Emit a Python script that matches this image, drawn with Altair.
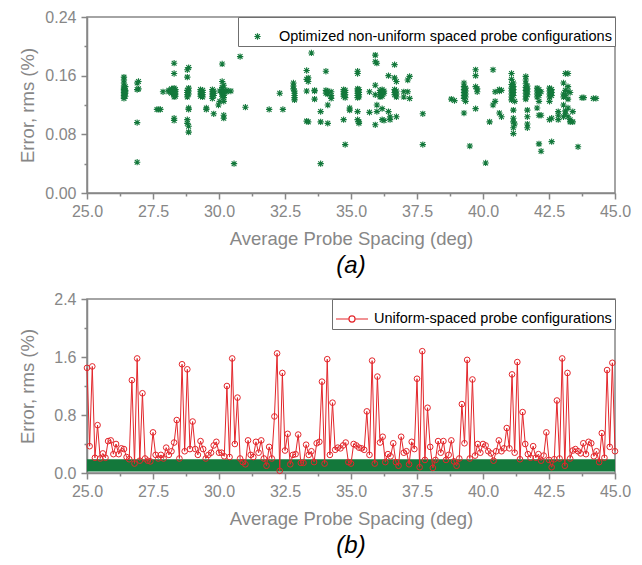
import altair as alt
import pandas as pd

# ---------------- data ----------------
# Panel (a): optimized non-uniform spaced probe configurations
# average probe spacing (deg) of each vertical cluster, and rms errors (%) in it
opt_spacing = [26.40, 26.45, 26.90, 26.95, 27.65, 27.72, 27.78, 27.88, 28.10, 28.20,
               28.30, 28.35, 28.80, 28.85, 29.30, 29.38, 29.52, 29.75, 29.80, 29.98,
               30.03, 30.12, 30.18, 30.30, 30.45, 30.57, 30.80, 31.00, 31.90, 32.30,
               32.42, 32.82, 32.86, 33.32, 33.38, 33.50, 33.62, 33.85, 34.05, 34.12,
               34.25, 34.72, 34.78, 34.95, 35.25, 35.30, 35.70, 35.92, 35.98, 36.10,
               36.18, 36.25, 36.42, 36.48, 36.65, 36.72, 37.00, 37.15, 37.22, 37.72,
               38.80, 38.92, 39.28, 39.34, 39.50, 39.72, 39.78, 40.10, 40.25, 40.38,
               40.46, 40.62, 40.70, 41.08, 41.15, 41.20, 41.62, 41.68, 42.05, 42.12,
               42.20, 42.52, 42.60, 42.85, 43.05, 43.12, 43.22, 43.30, 43.40, 43.60,
               43.75, 43.82, 44.18, 44.28]
opt_errors = [
    [0.158, 0.154, 0.150, 0.146, 0.143, 0.141, 0.139, 0.137, 0.135, 0.133, 0.131, 0.129],
    [0.145, 0.140, 0.136, 0.132, 0.138],
    [0.150, 0.141, 0.096, 0.042],
    [0.152, 0.142],
    [0.114], [0.114], [0.114], [0.138],
    [0.140, 0.138],
    [0.139, 0.142, 0.136],
    [0.177, 0.163, 0.143, 0.140, 0.137, 0.134, 0.131, 0.102, 0.099],
    [0.141, 0.138, 0.135, 0.132],
    [0.168, 0.158, 0.100, 0.095, 0.140, 0.137, 0.134, 0.131],
    [0.171, 0.143, 0.139, 0.135, 0.116, 0.114, 0.091, 0.083],
    [0.141, 0.138, 0.135, 0.132],
    [0.140, 0.137, 0.134, 0.131],
    [0.116, 0.114],
    [0.141, 0.138, 0.135, 0.132, 0.129],
    [0.139, 0.136, 0.133, 0.108],
    [0.120],
    [0.125, 0.139],
    [0.144, 0.141, 0.138, 0.135, 0.132, 0.152, 0.176],
    [0.147, 0.140, 0.136, 0.133, 0.130, 0.125, 0.106, 0.102],
    [0.140, 0.138],
    [0.139], [0.040], [0.186], [0.117], [0.114], [0.136], [0.114],
    [0.150, 0.146, 0.142],
    [0.139, 0.136, 0.133, 0.130, 0.127],
    [0.167, 0.155, 0.139, 0.098],
    [0.157, 0.152, 0.097],
    [0.191],
    [0.139, 0.128, 0.140],
    [0.111, 0.097, 0.040],
    [0.166, 0.140, 0.136],
    [0.139, 0.135, 0.120, 0.095],
    [0.138, 0.133, 0.129],
    [0.141, 0.138, 0.135, 0.132, 0.100],
    [0.140, 0.137, 0.134, 0.130, 0.066],
    [0.116, 0.113],
    [0.166, 0.163, 0.142, 0.139, 0.136, 0.133, 0.130, 0.111, 0.100],
    [0.141, 0.137, 0.134, 0.131, 0.097, 0.095],
    [0.138, 0.110],
    [0.188, 0.179, 0.147, 0.134, 0.093],
    [0.177, 0.120, 0.111],
    [0.140, 0.137, 0.134, 0.131],
    [0.141, 0.138, 0.135, 0.132, 0.115, 0.100],
    [0.139, 0.136, 0.099],
    [0.160, 0.111],
    [0.104, 0.100],
    [0.175, 0.157, 0.141, 0.137, 0.134],
    [0.152, 0.139, 0.135, 0.131, 0.104],
    [0.131, 0.138],
    [0.154, 0.138],
    [0.205, 0.159, 0.129],
    [0.108, 0.066],
    [0.128], [0.126],
    [0.150, 0.145, 0.141, 0.137, 0.133, 0.129, 0.109],
    [0.143, 0.139, 0.135, 0.131, 0.125],
    [0.064],
    [0.168, 0.160, 0.145, 0.115],
    [0.142, 0.138],
    [0.041], [0.097],
    [0.168, 0.120],
    [0.125, 0.138],
    [0.141, 0.139, 0.109],
    [0.140, 0.104],
    [0.163, 0.155, 0.148, 0.143, 0.139, 0.135, 0.131, 0.127],
    [0.150, 0.145, 0.141, 0.137, 0.133, 0.113, 0.102, 0.097, 0.089, 0.081],
    [0.125, 0.094],
    [0.159, 0.154, 0.149, 0.144, 0.140, 0.136, 0.132, 0.128],
    [0.146, 0.142, 0.138, 0.134, 0.113, 0.104, 0.094, 0.089],
    [0.143, 0.139, 0.135, 0.131, 0.116],
    [0.141, 0.137, 0.133, 0.125, 0.106, 0.067],
    [0.138, 0.106, 0.057],
    [0.143, 0.139, 0.135, 0.131, 0.125, 0.100],
    [0.141, 0.137, 0.133, 0.102, 0.070],
    [0.111, 0.106, 0.100],
    [0.150, 0.135, 0.131, 0.120, 0.104],
    [0.163, 0.140, 0.133, 0.112, 0.108],
    [0.163, 0.145, 0.138, 0.128, 0.116, 0.104],
    [0.137, 0.100, 0.097],
    [0.111, 0.097],
    [0.063], [0.130], [0.130], [0.129], [0.129],
]

# Panel (b): uniform-spaced probe configurations
uni_spacing = [
    25.0, 25.1, 25.2, 25.3, 25.4, 25.5, 25.6, 25.7, 25.8, 25.9,
    26.0, 26.1, 26.2, 26.3, 26.4, 26.5, 26.6, 26.7, 26.8, 26.9,
    27.0, 27.1, 27.2, 27.3, 27.4, 27.5, 27.6, 27.7, 27.8, 27.9,
    28.0, 28.1, 28.2, 28.3, 28.4, 28.5, 28.6, 28.7, 28.8, 28.9,
    29.0, 29.1, 29.2, 29.3, 29.4, 29.5, 29.6, 29.7, 29.8, 29.9,
    30.0, 30.1, 30.2, 30.3, 30.4, 30.5, 30.6, 30.7, 30.8, 30.9,
    31.0, 31.1, 31.2, 31.3, 31.4, 31.5, 31.6, 31.7, 31.8, 31.9,
    32.0, 32.1, 32.2, 32.3, 32.4, 32.5, 32.6, 32.7, 32.8, 32.9,
    33.0, 33.1, 33.2, 33.3, 33.4, 33.5, 33.6, 33.7, 33.8, 33.9,
    34.0, 34.1, 34.2, 34.3, 34.4, 34.5, 34.6, 34.7, 34.8, 34.9,
    35.0, 35.1, 35.2, 35.3, 35.4, 35.5, 35.6, 35.7, 35.8, 35.9,
    36.0, 36.1, 36.2, 36.3, 36.4, 36.5, 36.6, 36.7, 36.8, 36.9,
    37.0, 37.1, 37.2, 37.3, 37.4, 37.5, 37.6, 37.7, 37.8, 37.9,
    38.0, 38.1, 38.2, 38.3, 38.4, 38.5, 38.6, 38.7, 38.8, 38.9,
    39.0, 39.1, 39.2, 39.3, 39.4, 39.5, 39.6, 39.7, 39.8, 39.9,
    40.0, 40.1, 40.2, 40.3, 40.4, 40.5, 40.6, 40.7, 40.8, 40.9,
    41.0, 41.1, 41.2, 41.3, 41.4, 41.5, 41.6, 41.7, 41.8, 41.9,
    42.0, 42.1, 42.2, 42.3, 42.4, 42.5, 42.6, 42.7, 42.8, 42.9,
    43.0, 43.1, 43.2, 43.3, 43.4, 43.5, 43.6, 43.7, 43.8, 43.9,
    44.0, 44.1, 44.2, 44.3, 44.4, 44.5, 44.6, 44.7, 44.8, 44.9,
    45.0]
uni_error = [
    1.45, 0.37, 1.47, 0.21, 0.66, 0.20, 0.27, 0.21, 0.44, 0.45,
    0.26, 0.40, 0.26, 0.34, 0.33, 0.22, 0.19, 1.28, 0.13, 1.58,
    0.17, 1.10, 0.20, 0.17, 0.16, 0.56, 0.25, 0.20, 0.25, 0.20,
    0.35, 0.25, 0.30, 0.42, 0.73, 0.20, 1.50, 0.30, 1.43, 0.33,
    0.71, 0.33, 0.25, 0.44, 0.33, 0.20, 0.25, 0.28, 0.38, 0.43,
    0.28, 0.28, 0.23, 1.20, 0.22, 1.58, 0.40, 1.04, 0.20, 0.15,
    0.12, 0.45, 0.25, 0.22, 0.43, 0.28, 0.45, 0.20, 0.10, 0.36,
    0.20, 0.78, 1.65, 0.03, 1.38, 0.31, 0.54, 0.12, 0.25, 0.26,
    0.53, 0.14, 0.14, 0.39, 0.25, 0.30, 0.15, 0.41, 0.43, 1.26,
    0.13, 1.57, 0.25, 0.97, 0.32, 0.35, 0.34, 0.38, 0.42, 0.15,
    0.13, 0.40, 0.38, 0.35, 0.34, 0.32, 0.85, 0.25, 1.55, 0.13,
    1.33, 0.42, 0.50, 0.15, 0.26, 0.23, 0.41, 0.15, 0.10, 0.50,
    0.28, 0.30, 0.12, 0.43, 0.33, 1.30, 0.08, 1.68, 0.18, 0.90,
    0.36, 0.07, 0.18, 0.44, 0.28, 0.44, 0.18, 0.25, 0.45, 0.16,
    0.10, 0.20, 0.95, 0.41, 1.56, 0.20, 1.29, 0.24, 0.40, 0.28,
    0.40, 0.38, 0.30, 0.27, 0.17, 0.30, 0.45, 0.30, 0.34, 0.62,
    0.34, 1.36, 0.28, 1.53, 0.19, 0.84, 0.40, 0.26, 0.21, 0.37,
    0.21, 0.26, 0.17, 0.24, 0.56, 0.18, 0.08, 0.19, 1.00, 0.20,
    1.58, 0.10, 1.38, 0.20, 0.31, 0.33, 0.30, 0.27, 0.41, 0.26,
    0.43, 0.41, 0.23, 0.30, 0.15, 0.55, 0.21, 1.42, 0.36, 1.52,
    0.30]

# green band of optimized errors shown on panel (b) scale
band_spacing = [25.0, 45.0]
band_error = [0.02, 0.19]

# tick values (major + minor)
x_ticks = [25.0, 26.25, 27.5, 28.75, 30.0, 31.25, 32.5, 33.75, 35.0, 36.25, 37.5,
           38.75, 40.0, 41.25, 42.5, 43.75, 45.0]
y_ticks_a = [0.0, 0.04, 0.08, 0.12, 0.16, 0.20, 0.24]
y_ticks_b = [0.0, 0.4, 0.8, 1.2, 1.6, 2.0, 2.4]

legend_a = "Optimized non-uniform spaced probe configurations"
legend_b = "Uniform-spaced probe configurations"

# ---------------- tables ----------------
rows = []
for s, errs in zip(opt_spacing, opt_errors):
    for e in errs:
        rows.append({"spacing": s, "error": e, "series": legend_a})
df_a = pd.DataFrame(rows)
df_b = pd.DataFrame({"spacing": uni_spacing, "error": uni_error, "series": legend_b})
df_band = pd.DataFrame({"x0": [band_spacing[0]], "x1": [band_spacing[1]],
                        "y0": [band_error[0]], "y1": [band_error[1]]})

# ---------------- style ----------------
GREEN = "#13783b"
RED = "#e3262b"
GRAY = "#878787"
FONT = "Liberation Sans"
ASTERISK = "M-0.2,0H0.2M0,-0.2V0.2M-0.15,-0.15L0.15,0.15M-0.15,0.15L0.15,-0.15"
LINE_CIRCLE = ("M-1,0H-0.19M0.19,0H1M0.19,0A0.19,0.19,0,1,1,-0.19,0"
               "A0.19,0.19,0,1,1,0.19,0")


def is_major(step):
    return f"abs(datum.value/{step} - round(datum.value/{step})) < 0.001"


def make_axis(values, step, fmt, title, vertical, height=None):
    kw = dict(
        values=values,
        labelExpr=f"{is_major(step)} ? format(datum.value, '{fmt}') : ''",
        tickSize={"condition": {"test": is_major(step), "value": 6}, "value": 3},
        title=title,
        labelOverlap=False,
        labelFlush=False,
        grid=False,
        labelFont=FONT, labelFontSize=16, labelColor=GRAY,
        titleFont=FONT, titleFontSize=18.5, titleColor=GRAY, titleFontWeight="normal",
        domainColor=GRAY, domainWidth=1.5, tickColor=GRAY, tickWidth=1.5,
    )
    if vertical:
        kw.update(labelPadding=5, titleX=-50, titleY=height / 2, titleAngle=-90,
                  titleBaseline="bottom", titleAlign="center")
    else:
        kw.update(labelPadding=4, titlePadding=10)
    return alt.Axis(**kw)


def legend(symbol, size, color):
    return alt.Legend(
        title=None, orient="top-right", offset=0,
        symbolType=symbol, symbolSize=size, symbolStrokeColor=color,
        symbolFillColor="transparent", symbolStrokeWidth=1.2,
        labelFont=FONT, labelFontSize=14.5, labelColor="black", labelOffset=5,
        labelLimit=0,
        strokeColor="#6f6f6f", fillColor="white", padding=3,
    )


def panel_title(text):
    return alt.TitleParams(text, orient="bottom", font=FONT, fontSize=24,
                           fontStyle="italic", fontWeight="normal", color="black",
                           offset=6, anchor="middle", frame="group")


H_A, H_B, W = 176, 174, 528

x_a = alt.X("spacing:Q", scale=alt.Scale(domain=[25, 45], nice=False, zero=False),
            axis=make_axis(x_ticks, 2.5, ".1f", "Average Probe Spacing (deg)", False))
y_a = alt.Y("error:Q", scale=alt.Scale(domain=[0, 0.24], nice=False),
            axis=make_axis(y_ticks_a, 0.08, ".2f", "Error, rms (%)", True, H_A))

top = alt.Chart(df_a).mark_point(
    shape=ASTERISK, filled=False, size=1000, strokeWidth=1.1, opacity=1
).encode(
    x=x_a, y=y_a,
    color=alt.Color("series:N", scale=alt.Scale(domain=[legend_a], range=[GREEN]),
                    legend=legend(ASTERISK, 1000, GREEN)),
).properties(width=W, height=H_A, title=panel_title("(a)"))

x_b = alt.X("spacing:Q", scale=alt.Scale(domain=[25, 45], nice=False, zero=False),
            axis=make_axis(x_ticks, 2.5, ".1f", "Average Probe Spacing (deg)", False))
y_b = alt.Y("error:Q", scale=alt.Scale(domain=[0, 2.4], nice=False),
            axis=make_axis(y_ticks_b, 0.8, ".1f", "Error, rms (%)", True, H_B))

band = alt.Chart(df_band).mark_rect(color=GREEN).encode(
    x=alt.X("x0:Q", scale=alt.Scale(domain=[25, 45], nice=False, zero=False),
            axis=make_axis(x_ticks, 2.5, ".1f", "Average Probe Spacing (deg)", False)),
    x2="x1:Q",
    y=alt.Y("y0:Q", scale=alt.Scale(domain=[0, 2.4], nice=False),
            axis=make_axis(y_ticks_b, 0.8, ".1f", "Error, rms (%)", True, H_B)),
    y2="y1:Q",
)
color_b = alt.Color("series:N", scale=alt.Scale(domain=[legend_b], range=[RED]),
                    legend=legend(LINE_CIRCLE, 1024, RED))
line = alt.Chart(df_b).mark_line(strokeWidth=1).encode(x=x_b, y=y_b, color=color_b)
pts = alt.Chart(df_b).mark_point(shape="circle", filled=False, size=32,
                                 strokeWidth=1, opacity=1).encode(
    x=x_b, y=y_b, color=color_b)

bottom = alt.layer(band, line, pts).properties(
    width=W, height=H_B, title=panel_title("(b)"))

chart = alt.vconcat(top, bottom, spacing=11).resolve_scale(
    x="independent", y="independent", color="independent"
).properties(
    padding={"left": 17, "top": 8, "right": 5, "bottom": 0},
    background="white",
).configure_view(stroke=GRAY, strokeWidth=1.5)

chart.save("out.html", embed_options={"renderer": "svg", "actions": False})
